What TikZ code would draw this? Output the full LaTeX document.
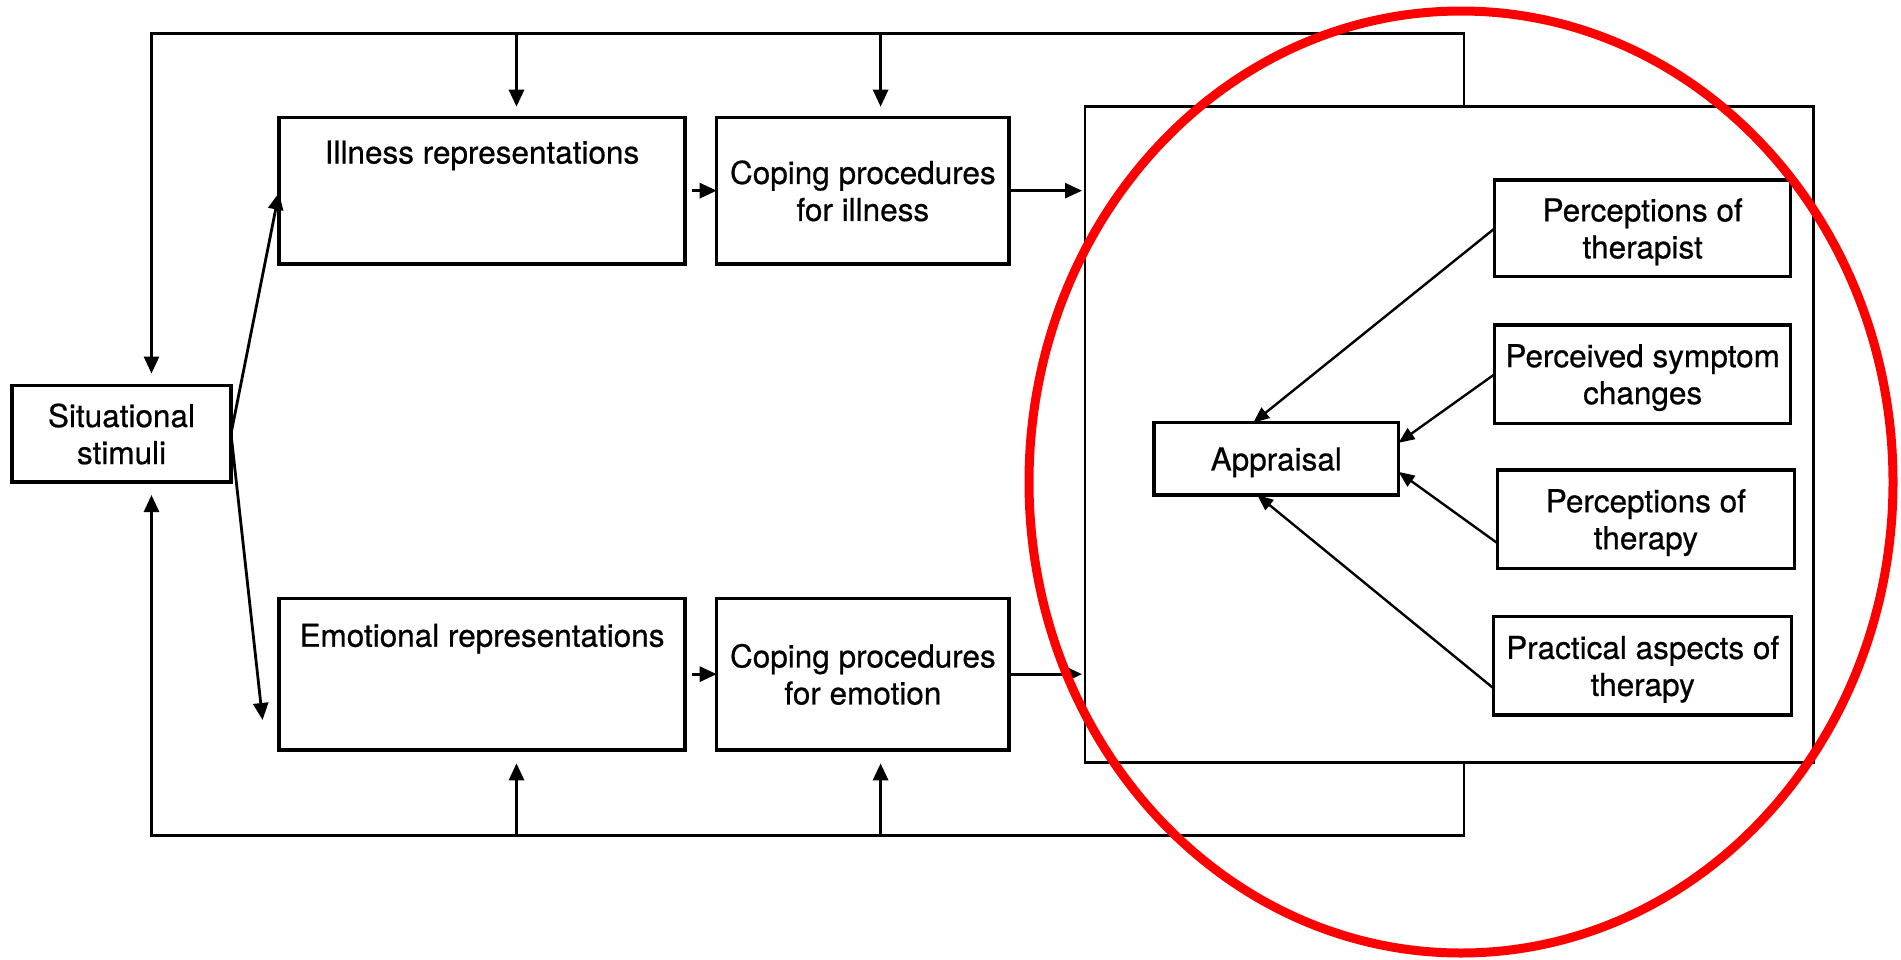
\documentclass[tikz,border=0pt]{standalone}
\usepackage{fontspec}
\setmainfont{TeX Gyre Heros}
\newfontfamily\labelfont{TeX Gyre Heros}[FakeBold=0.6]
\usetikzlibrary{arrows.meta,calc}
\begin{document}
\begin{tikzpicture}[x=1pt,y=-1pt,
  every node/.style={outer sep=0pt, inner sep=2pt},
  txt/.style={font=\labelfont\fontsize{31.5}{37}\selectfont, align=center},
  box/.style={draw, line width=3.2pt, txt, text depth=0pt},
  frame/.style={draw, line width=2.7pt},
  arr/.style={line width=2.8pt, -{Triangle[length=17pt,width=15pt]}},
  sarr/.style={line width=2.4pt, -{Triangle[length=16pt,width=13pt]}},
  ring/.style={draw=red, line width=9pt}]

\fill[white] (0,0) rectangle (1901,959);
\useasboundingbox (0,0) rectangle (1901,959);

% left-hand boxes
\node[box, minimum width=219pt, minimum height=96.5pt] (sit) at (121.5,433.75) {Situational\\stimuli};
\node[box, minimum width=406pt, minimum height=146.7pt] (ill) at (482,190.65) {};
\node[txt, anchor=base] (illt) at ($(ill.north)+(0,46.2)$) {Illness representations};
\node[box, minimum width=406pt, minimum height=151.7pt] (emo) at (482,674.15) {};
\node[txt, anchor=base] (emot) at ($(emo.north)+(0,48.4)$) {Emotional representations};
\node[box, minimum width=292.3pt, minimum height=146.7pt] (cil) at (862.85,190.65) {Coping procedures\\for illness};
\node[box, minimum width=292.3pt, minimum height=151.7pt] (cem) at (862.85,674.15) {Coping procedures\\for emotion};

% appraisal frame and its contents
\node[frame, minimum width=728.6pt, minimum height=656pt] (big) at (1449.3,434.7) {};
\node[box, minimum width=244.5pt, minimum height=72.3pt] (app) at (1276.25,458.85) {Appraisal};
\node[box, minimum width=295.9pt, minimum height=96.7pt] (ther) at (1642.65,228.35) {Perceptions of\\therapist};
\node[box, minimum width=295.9pt, minimum height=98.3pt] (sym) at (1642.65,374.15) {Perceived symptom\\changes};
\node[box, minimum width=297pt, minimum height=98.3pt] (thy) at (1645.9,519.15) {Perceptions of\\therapy};
\node[box, minimum width=298.2pt, minimum height=98.3pt] (pra) at (1642.7,665.85) {Practical aspects of\\therapy};

% feedback loops
\coordinate (tl) at (151.5,33.3);
\coordinate (tr) at (1464,33.3);
\coordinate (bl) at (151.5,835.7);
\coordinate (br) at (1464,835.7);
\coordinate (t1) at (516.5,33.3);
\coordinate (t2) at (880.6,33.3);
\coordinate (b1) at (516.5,835.7);
\coordinate (b2) at (880.6,835.7);

\draw[arr, shorten >=12pt] (big.north -| tr) -- (tr) -- (tl) -- (tl |- sit.north);
\draw[arr, shorten >=10.6pt] (t1) -- (t1 |- ill.north);
\draw[arr, shorten >=10.6pt] (t2) -- (t2 |- cil.north);
\draw[arr, shorten >=13pt] (big.south -| br) -- (br) -- (bl) -- (bl |- sit.south);
\draw[arr, shorten >=13.3pt] (b1) -- (b1 |- emo.south);
\draw[arr, shorten >=13.3pt] (b2) -- (b2 |- cem.south);

% forward flow
\draw[arr] (sit.east) -- ($(ill.west)+(0,2)$);
\draw[arr] (sit.east) -- ($(emo.south west)+(-16.4,-30)$);
\draw[arr, shorten <=7pt] (ill.east) -- (cil.west);
\draw[arr, shorten <=7pt] (emo.east) -- (cem.west);
\draw[arr, shorten >=3pt] (cil.east) -- (cil.east -| big.west);
\draw[arr, shorten >=3pt] (cem.east) -- (cem.east -| big.west);

% influences on appraisal
\draw[sarr] (ther.west) -- ($(app.north)+(-23,0)$);
\draw[sarr] (sym.west) -- ($(app.east)+(0,-16)$);
\draw[sarr] ($(thy.west)+(0,24)$) -- ($(app.east)+(0,13)$);
\draw[sarr] ($(pra.west)+(0,22.5)$) -- ($(app.south)+(-19,0)$);

% highlight ring
\draw[ring] (1461,482) ellipse [x radius=432pt, y radius=471pt];
\end{tikzpicture}
\end{document}
